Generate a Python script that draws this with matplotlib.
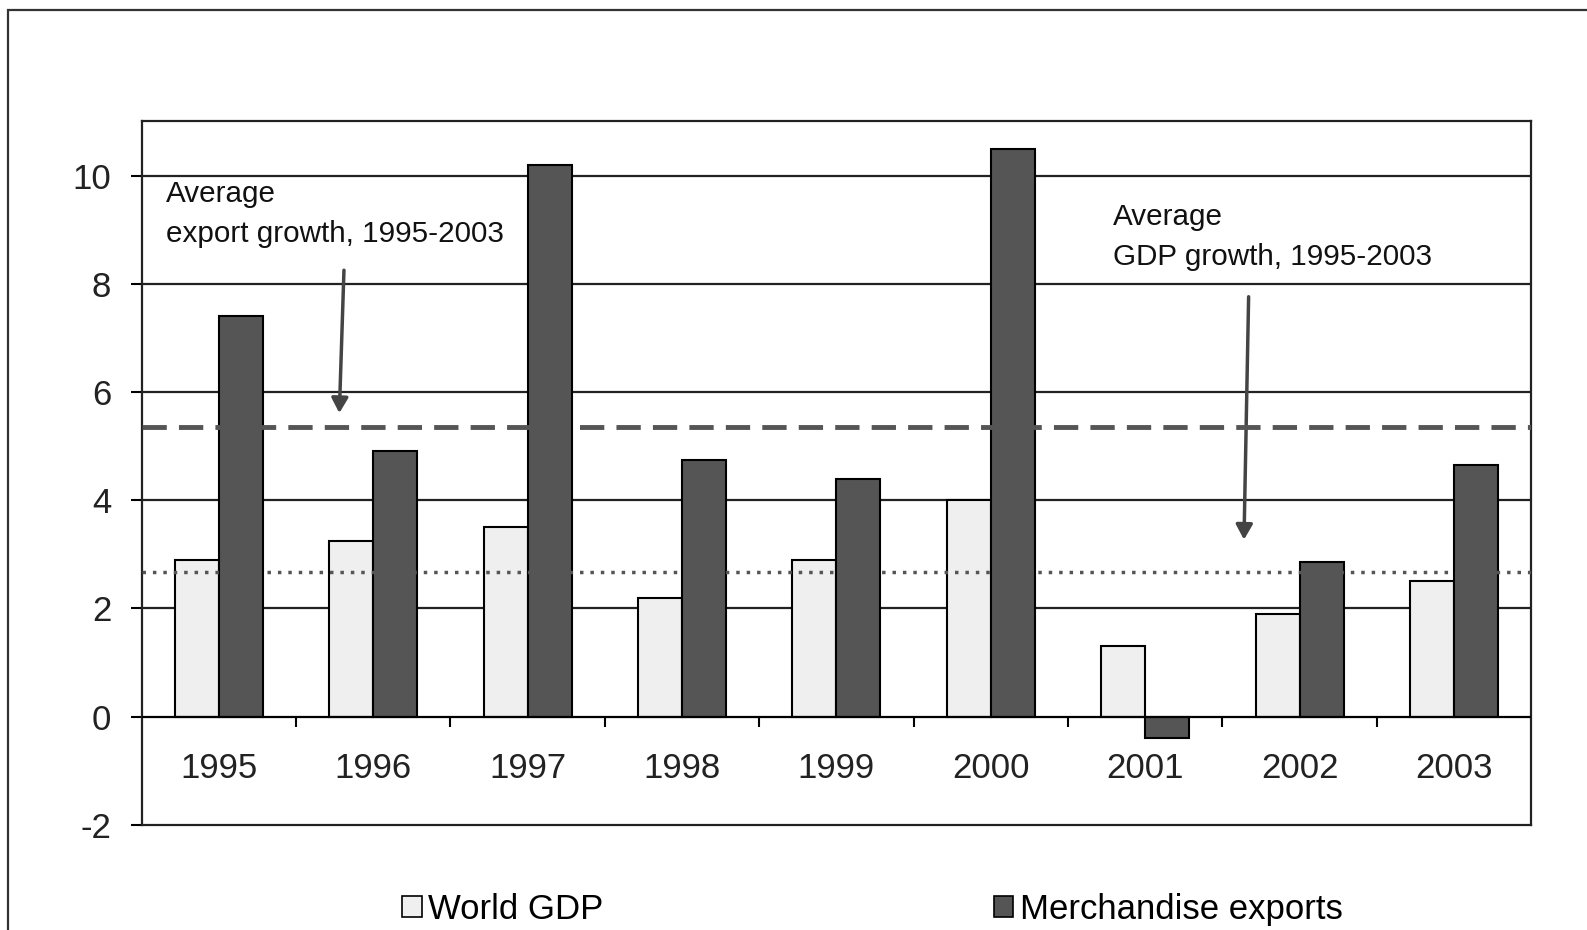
import matplotlib.pyplot as plt
import numpy as np
from matplotlib.patches import Patch, Rectangle

plt.rcParams['font.family'] = ['Liberation Sans', 'DejaVu Sans']
plt.rcParams['axes.unicode_minus'] = False

years = ['1995', '1996', '1997', '1998', '1999', '2000', '2001', '2002', '2003']
worldGdp = [2.9, 3.25, 3.5, 2.2, 2.9, 4.0, 1.3, 1.9, 2.5]
merchExports = [7.4, 4.9, 10.2, 4.75, 4.4, 10.5, -0.4, 2.85, 4.65]
avgExport = 5.35
avgGdp = 2.67
yticks = [-2, 0, 2, 4, 6, 8, 10]

fig = plt.figure(figsize=(15.87, 9.30), dpi=100)
ax = fig.add_axes([0.0893, 0.1131, 0.8755, 0.7563])

# outer frame round the whole chart
fig.patches.append(Rectangle((0.005, -0.05), 1.2, 1.039, transform=fig.transFigure,
                             fill=False, edgecolor='#333333', linewidth=1.6))

index = np.arange(len(years))
w = 0.285
ax.bar(index - w / 2, worldGdp, width=w, color='#efefef', edgecolor='black',
       linewidth=1.5, zorder=3)
ax.bar(index + w / 2, merchExports, width=w, color='#555555', edgecolor='black',
       linewidth=1.5, zorder=3)

for y in [2, 4, 6, 8, 10]:
    ax.axhline(y, color='#222222', linewidth=1.6, zorder=1)
ax.axhline(0, color='black', linewidth=1.6, zorder=4)

ax.axhline(avgExport, color='#555555', linewidth=3.5, linestyle=(0, (5, 2.5)), zorder=5)
ax.axhline(avgGdp, color='#555555', linewidth=2.5, linestyle=(0, (1, 2)), zorder=5)

# category separators on the zero line
ax.vlines(index[:-1] + 0.5, -0.2, 0, color='black', linewidth=1.5, zorder=4)
for i, yr in enumerate(years):
    ax.text(i, -0.95, yr, ha='center', va='center', fontsize=25, color='#222222')

ax.set_xlim(-0.5, len(years) - 0.5)
ax.set_ylim(-2, 11)
ax.set_xticks([])
ax.set_yticks(yticks)
ax.tick_params(axis='y', direction='out', length=8, width=1.5, pad=14,
               labelsize=25, labelcolor='#222222')
for s in ax.spines.values():
    s.set_linewidth(1.6)
    s.set_color('#222222')

arrowStyle = dict(arrowstyle='-|>,head_width=0.5,head_length=0.9', color='#444444',
                  linewidth=2.5, shrinkA=0, shrinkB=0)
ax.text(-0.34, 9.92, 'Average\nexport growth, 1995-2003', fontsize=21.3,
        va='top', ha='left', linespacing=1.55, color='#111111')
ax.annotate('', xy=(0.78, avgExport + 0.26), xytext=(0.81, 8.25), arrowprops=arrowStyle)
ax.text(5.79, 9.5, 'Average\nGDP growth, 1995-2003', fontsize=21.3,
        va='top', ha='left', linespacing=1.55, color='#111111')
ax.annotate('', xy=(6.64, avgGdp + 0.6), xytext=(6.67, 7.76), arrowprops=arrowStyle)

handles = [Patch(facecolor='#efefef', edgecolor='black', linewidth=1.2),
           Patch(facecolor='#555555', edgecolor='black', linewidth=1.2)]
fig.legend(handles, ['World GDP', 'Merchandise exports'], loc='center',
           bbox_to_anchor=(0.55, 0.022), ncol=2, frameon=False, fontsize=25,
           handlelength=0.55, handleheight=0.55, handletextpad=0.2,
           columnspacing=11.25)

plt.savefig('out.png', dpi=100)
